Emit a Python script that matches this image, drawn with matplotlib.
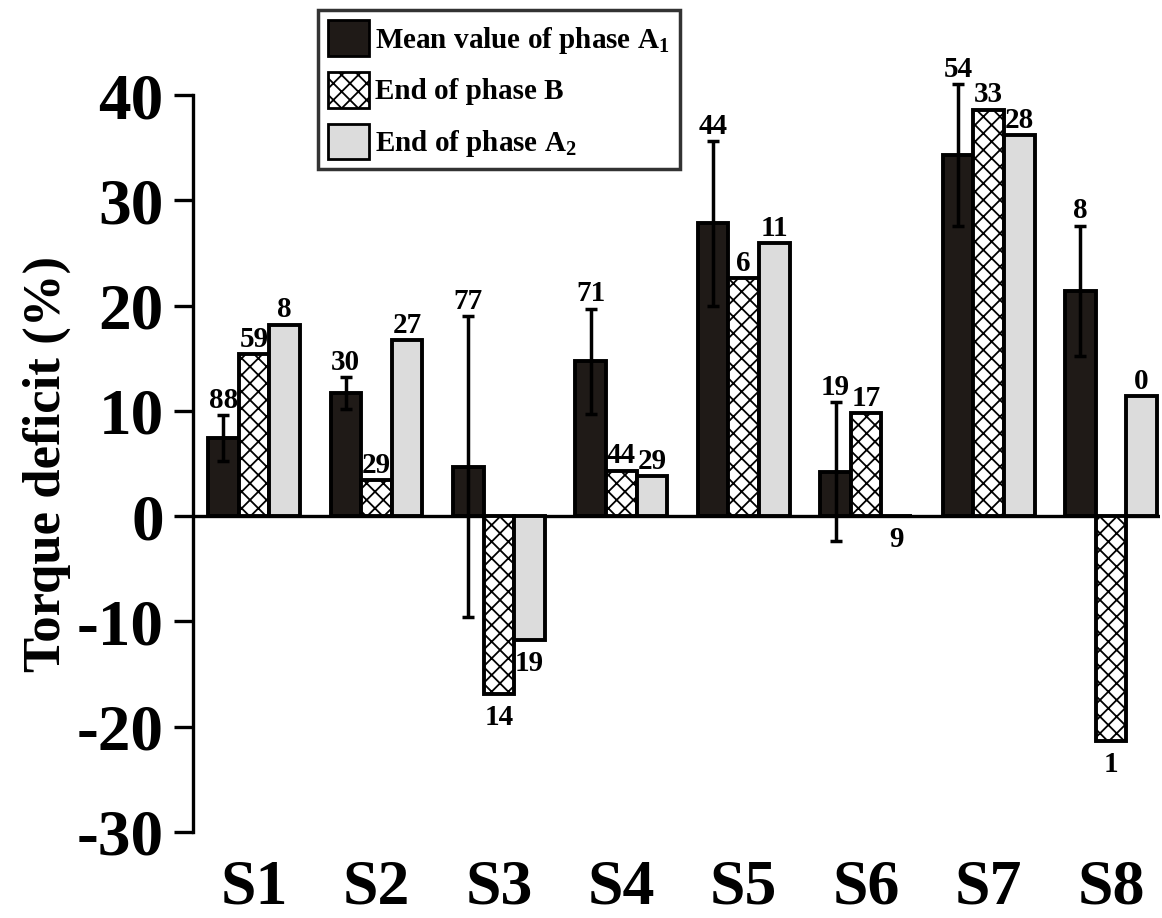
import numpy as np
import matplotlib.pyplot as plt
from matplotlib.patches import Patch

plt.rcParams['font.family'] = ['Liberation Serif', 'DejaVu Serif']
plt.rcParams['font.weight'] = 'bold'
plt.rcParams['mathtext.fontset'] = 'custom'
plt.rcParams['mathtext.rm'] = 'Liberation Serif:bold'
plt.rcParams['mathtext.bf'] = 'Liberation Serif:bold'
plt.rcParams['hatch.linewidth'] = 1.3

# data
subjects = ['S1', 'S2', 'S3', 'S4', 'S5', 'S6', 'S7', 'S8']
mean_a1 = [7.4, 11.7, 4.7, 14.7, 27.8, 4.2, 34.3, 21.4]
err_a1 = [2.2, 1.5, 14.3, 5.0, 7.8, 6.6, 6.7, 6.2]
end_b = [15.4, 3.4, -16.9, 4.3, 22.6, 9.8, 38.6, -21.4]
end_a2 = [18.2, 16.7, -11.8, 3.8, 25.9, 0.0, 36.2, 11.4]
lab_a1 = ['88', '30', '77', '71', '44', '19', '54', '8']
lab_b = ['59', '29', '14', '44', '6', '17', '33', '1']
lab_a2 = ['8', '27', '19', '29', '11', '9', '28', '0']
yticks = [-30, -20, -10, 0, 10, 20, 30, 40]

dark = '#1f1a17'
grey = '#dcdcdc'

fig = plt.figure(figsize=(11.62, 9.18), dpi=100)
ax = fig.add_axes([0.1661, 0.0937, 0.8322, 0.8028])

x = np.arange(len(subjects))
w = 0.25

ax.bar(x - w, mean_a1, w, color=dark, edgecolor='black', linewidth=2.8, zorder=2)
ax.bar(x, end_b, w, color='white', edgecolor='black', linewidth=2.8,
       hatch='xx', zorder=2)
ax.bar(x + w, end_a2, w, color=grey, edgecolor='black', linewidth=2.8, zorder=2)

eb = ax.errorbar(x - w, mean_a1, yerr=err_a1, fmt='none', ecolor='black',
                 elinewidth=2.5, capsize=4.5, capthick=2.5, zorder=3)
for art in eb.lines[1] + eb.lines[2]:
    art.set_clip_on(False)

ax.axhline(0, color='black', lw=2.4, zorder=1)

# count labels over / under each bar
def put_labels(xs, vals, labs, errs=None):
    for i, (xi, v, t) in enumerate(zip(xs, vals, labs)):
        e = errs[i] if errs is not None else 0
        if v > 0:
            ax.annotate(t, (xi, v + e), xytext=(0, 1), textcoords='offset points',
                        ha='center', va='bottom', fontsize=21, fontweight='bold',
                        annotation_clip=False)
        else:
            ax.annotate(t, (xi, v - e), xytext=(0, -7), textcoords='offset points',
                        ha='center', va='top', fontsize=21, fontweight='bold',
                        annotation_clip=False)

put_labels(x - w, mean_a1, lab_a1, err_a1)
put_labels(x, end_b, lab_b)
put_labels(x + w, end_a2, lab_a2)

ax.set_xlim(-0.498, 7.40)
ax.set_ylim(-30, 40)
ax.set_yticks(yticks)
ax.set_yticklabels([str(t) for t in yticks], fontsize=47, fontweight='bold')
ax.set_xticks(x)
ax.set_xticklabels(subjects, fontsize=46, fontweight='bold')
ax.tick_params(axis='y', length=14, width=2.4, pad=7)
ax.tick_params(axis='x', length=0, pad=20)

for s in ['top', 'right', 'bottom']:
    ax.spines[s].set_visible(False)
ax.spines['left'].set_linewidth(2.4)

ax.set_ylabel('Torque deficit (%)', fontsize=38, fontweight='bold', labelpad=4)

handles = [Patch(facecolor=dark, edgecolor='black', linewidth=2),
           Patch(facecolor='white', edgecolor='black', linewidth=2, hatch='xx'),
           Patch(facecolor=grey, edgecolor='black', linewidth=2)]
names = [r'Mean value of phase A$_\mathregular{1}$', 'End of phase B',
         r'End of phase A$_\mathregular{2}$']
leg = fig.legend(handles, names, loc='upper left', bbox_to_anchor=(0.2737, 0.989),
                 borderaxespad=0, fontsize=21, frameon=True, fancybox=False,
                 handlelength=1.4, handleheight=1.5, handletextpad=0.2,
                 labelspacing=0.55, borderpad=0.35)
leg.get_frame().set_edgecolor('black')
leg.get_frame().set_linewidth(2.5)

plt.savefig('out.png', dpi=100)
